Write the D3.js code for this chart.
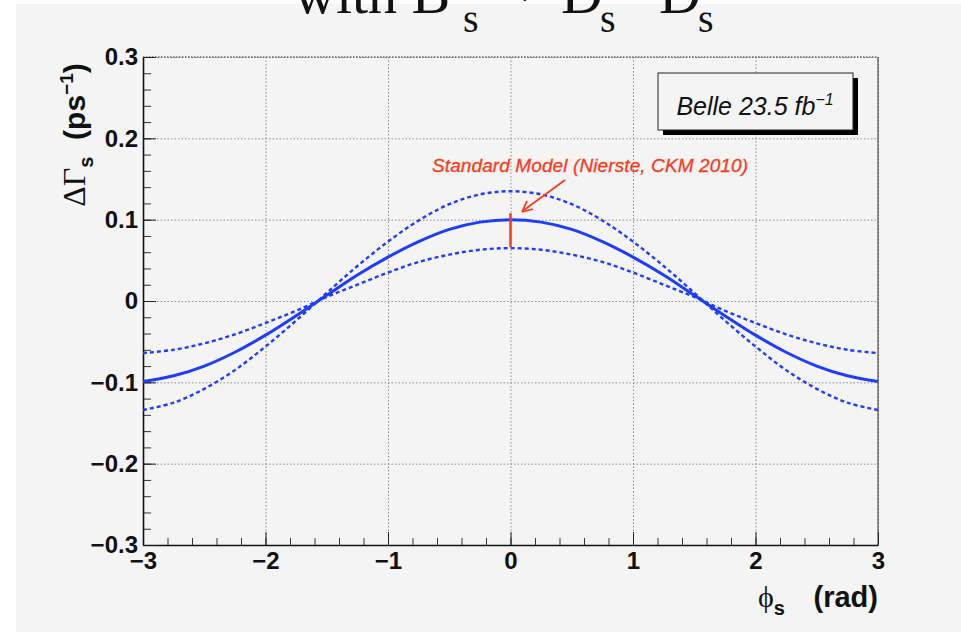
<!DOCTYPE html>
<html>
<head>
<meta charset="utf-8">
<script src="https://cdn.jsdelivr.net/npm/d3@7"></script>
<style>
  html, body { margin: 0; padding: 0; background: #ffffff; }
  svg { display: block; }
</style>
</head>
<body>
<svg id="chart" width="961" height="632"></svg>
<script>
// ---- data ----
const phiValues   = [-3, -2.75, -2.5, -2.25, -2, -1.75, -1.5, -1.25, -1, -0.75, -0.5, -0.25, 0,
                     0.25, 0.5, 0.75, 1, 1.25, 1.5, 1.75, 2, 2.25, 2.5, 2.75, 3];
const centralDG   = [-0.099, -0.092, -0.080, -0.063, -0.042, -0.018, 0.007, 0.032, 0.054, 0.073, 0.088, 0.097, 0.100,
                     0.097, 0.088, 0.073, 0.054, 0.032, 0.007, -0.018, -0.042, -0.063, -0.080, -0.092, -0.099];
const upperDG     = [-0.134, -0.125, -0.108, -0.085, -0.056, -0.024, 0.010, 0.043, 0.073, 0.099, 0.119, 0.131, 0.135,
                     0.131, 0.119, 0.099, 0.073, 0.043, 0.010, -0.024, -0.056, -0.085, -0.108, -0.125, -0.134];
const lowerDG     = [-0.064, -0.060, -0.052, -0.041, -0.027, -0.012, 0.005, 0.020, 0.035, 0.048, 0.057, 0.063, 0.065,
                     0.063, 0.057, 0.048, 0.035, 0.020, 0.005, -0.012, -0.027, -0.041, -0.052, -0.060, -0.064];
const smPhi       = [0, 0];
const smRange     = [0.066, 0.108];
const xTickValues = [-3, -2, -1, 0, 1, 2, 3];
const xTickLabels = ["\u22123", "\u22122", "\u22121", "0", "1", "2", "3"];
const yTickValues = [-0.3, -0.2, -0.1, 0, 0.1, 0.2, 0.3];
const yTickLabels = ["\u22120.3", "\u22120.2", "\u22120.1", "0", "0.1", "0.2", "0.3"];
const xMinorTicks = d3.range(-30, 31, 2).map(v => v / 10);
const yMinorTicks = d3.range(-30, 31, 2).map(v => v / 100);

// ---- layout ----
const svg = d3.select("#chart");
const L = 143, R = 878, T = 57, B = 545;
const x = d3.scaleLinear().domain([-3, 3]).range([L, R]);
const y = d3.scaleLinear().domain([-0.3, 0.3]).range([B, T]);

const BLUE = "#1f3dff";
const RED = "#fa3a1c";
const sans = "'Liberation Sans', Arial, Helvetica, sans-serif";
const serif = "'Liberation Serif', 'DejaVu Serif', serif";

// background panel
svg.append("rect").attr("x", 16).attr("y", 4).attr("width", 961 - 16).attr("height", 632 - 4).attr("fill", "#f4f4f4");

// title (cut off at the top)
const title = svg.append("text").attr("font-family", serif).attr("fill", "#111").attr("font-size", 58);
title.append("tspan").attr("x", 294).attr("y", 13).text("with B");
title.append("tspan").attr("x", 463).attr("y", 32).attr("font-size", 40).text("s");
title.append("tspan").attr("x", 486).attr("y", -40).attr("font-size", 40).text("0");
title.append("tspan").attr("x", 487).attr("y", 4).text("\u2192");
title.append("tspan").attr("x", 561).attr("y", 13).text("D");
title.append("tspan").attr("x", 600).attr("y", 32).attr("font-size", 40).text("s");
title.append("tspan").attr("x", 622).attr("y", -40).attr("font-size", 30).text("(*)+");
title.append("tspan").attr("x", 659).attr("y", 13).text("D");
title.append("tspan").attr("x", 698).attr("y", 32).attr("font-size", 40).text("s");
title.append("tspan").attr("x", 722).attr("y", -40).attr("font-size", 30).text("(*)\u2212");

// grid
const grid = svg.append("g");
grid.append("g").attr("transform", `translate(0,${B})`)
  .call(d3.axisBottom(x).tickValues(xTickValues).tickSize(-(B - T)).tickFormat(""))
  .call(g => g.select(".domain").remove())
  .call(g => g.selectAll("line").attr("stroke", "#8a8a8a").attr("stroke-width", 1).attr("stroke-dasharray", "1.5,2"));
grid.append("g").attr("transform", `translate(${L},0)`)
  .call(d3.axisLeft(y).tickValues(yTickValues).tickSize(-(R - L)).tickFormat(""))
  .call(g => g.select(".domain").remove())
  .call(g => g.selectAll("line").attr("stroke", "#8a8a8a").attr("stroke-width", 1).attr("stroke-dasharray", "1.5,2"));
// top frame line (darker dotted)
svg.append("line").attr("x1", L).attr("x2", R).attr("y1", T).attr("y2", T)
  .attr("stroke", "#666").attr("stroke-width", 1.5).attr("stroke-dasharray", "1.5,1.5");

// right frame line
svg.append("line").attr("x1", R).attr("x2", R).attr("y1", T).attr("y2", B).attr("stroke", "#333").attr("stroke-width", 1);

// minor ticks
svg.append("g").attr("transform", `translate(0,${B})`)
  .call(d3.axisBottom(x).tickValues(xMinorTicks).tickSize(-7).tickFormat(""))
  .call(g => g.select(".domain").remove())
  .call(g => g.selectAll("line").attr("stroke", "#333").attr("stroke-width", 1));
svg.append("g").attr("transform", `translate(${L},0)`)
  .call(d3.axisLeft(y).tickValues(yMinorTicks).tickSize(-8).tickFormat(""))
  .call(g => g.select(".domain").remove())
  .call(g => g.selectAll("line").attr("stroke", "#333").attr("stroke-width", 1));

// major axes
const xAxis = svg.append("g").attr("transform", `translate(0,${B})`)
  .call(d3.axisBottom(x).tickValues(xTickValues).tickSize(-13).tickSizeOuter(0).tickPadding(7)
        .tickFormat((d, i) => xTickLabels[i]));
const yAxis = svg.append("g").attr("transform", `translate(${L},0)`)
  .call(d3.axisLeft(y).tickValues(yTickValues).tickSize(-13).tickSizeOuter(0).tickPadding(5)
        .tickFormat((d, i) => yTickLabels[i]));
[xAxis, yAxis].forEach(a => {
  a.select(".domain").attr("stroke", "#111").attr("stroke-width", 1.6);
  a.selectAll(".tick line").attr("stroke", "#222").attr("stroke-width", 1);
  a.selectAll("text").attr("font-family", sans).attr("font-weight", "bold").attr("font-size", 24).attr("fill", "#111");
});

// curves
const pts = arr => phiValues.map((p, i) => [p, arr[i]]);
const line = d3.line().x(d => x(d[0])).y(d => y(d[1])).curve(d3.curveCatmullRom);
svg.append("path").attr("d", line(pts(upperDG))).attr("fill", "none")
  .attr("stroke", BLUE).attr("stroke-width", 2.4).attr("stroke-dasharray", "4,3");
svg.append("path").attr("d", line(pts(lowerDG))).attr("fill", "none")
  .attr("stroke", BLUE).attr("stroke-width", 2.4).attr("stroke-dasharray", "4,3");
svg.append("path").attr("d", line(pts(centralDG))).attr("fill", "none")
  .attr("stroke", BLUE).attr("stroke-width", 3);

// Standard Model band
svg.append("line").attr("x1", x(smPhi[0])).attr("x2", x(smPhi[1]))
  .attr("y1", y(smRange[0])).attr("y2", y(smRange[1])).attr("stroke", RED).attr("stroke-width", 2.5);
svg.append("text").attr("x", 590).attr("y", 172).attr("text-anchor", "middle")
  .attr("font-family", sans).attr("font-style", "italic").attr("font-size", 19).attr("fill", RED)
  .attr("stroke", RED).attr("stroke-width", 0.3)
  .attr("textLength", 316).attr("lengthAdjust", "spacing")
  .text("Standard Model (Nierste, CKM 2010)");
// arrow
svg.append("line").attr("x1", 565).attr("y1", 180).attr("x2", 524).attr("y2", 210)
  .attr("stroke", RED).attr("stroke-width", 1.8);
svg.append("path").attr("d", "M522,212 L527,201 M522,212 L533,209")
  .attr("stroke", RED).attr("stroke-width", 1.8).attr("fill", "none");

// legend box
svg.append("rect").attr("x", 663).attr("y", 78).attr("width", 195).attr("height", 57).attr("fill", "#000");
svg.append("rect").attr("x", 658).attr("y", 73).attr("width", 195).attr("height", 57)
  .attr("fill", "#f4f4f4").attr("stroke", "#222").attr("stroke-width", 1);
const leg = svg.append("text").attr("x", 755).attr("y", 115).attr("text-anchor", "middle")
  .attr("font-family", sans).attr("font-style", "italic").attr("font-size", 25).attr("fill", "#111");
leg.append("tspan").text("Belle 23.5 fb");
leg.append("tspan").attr("dy", -10).attr("font-size", 16).text("\u22121");

// axis titles
const yt = svg.append("text").attr("transform", "translate(85,135) rotate(-90)").attr("text-anchor", "middle")
  .attr("font-family", sans).attr("font-weight", "bold").attr("font-size", 30).attr("fill", "#111");
yt.append("tspan").attr("font-family", serif).attr("font-weight", "normal").attr("font-size", 32).text("\u0394\u0393");
yt.append("tspan").attr("dy", 8).attr("font-size", 20).text("s");
yt.append("tspan").attr("dy", -8).attr("xml:space", "preserve").text("\u00a0\u00a0(ps");
yt.append("tspan").attr("dy", -12).attr("font-size", 19).text("\u22121");
yt.append("tspan").attr("dy", 12).text(")");

const xt = svg.append("text").attr("x", 758).attr("y", 607)
  .attr("font-family", serif).attr("font-size", 30).attr("fill", "#111");
xt.append("tspan").text("\u03d5");
xt.append("tspan").attr("dy", 8).attr("font-family", sans).attr("font-weight", "bold").attr("font-size", 20).text("s");
xt.append("tspan").attr("x", 878).attr("dy", -8).attr("text-anchor", "end")
  .attr("font-family", sans).attr("font-weight", "bold").attr("font-size", 29).text("(rad)");
</script>
</body>
</html>
